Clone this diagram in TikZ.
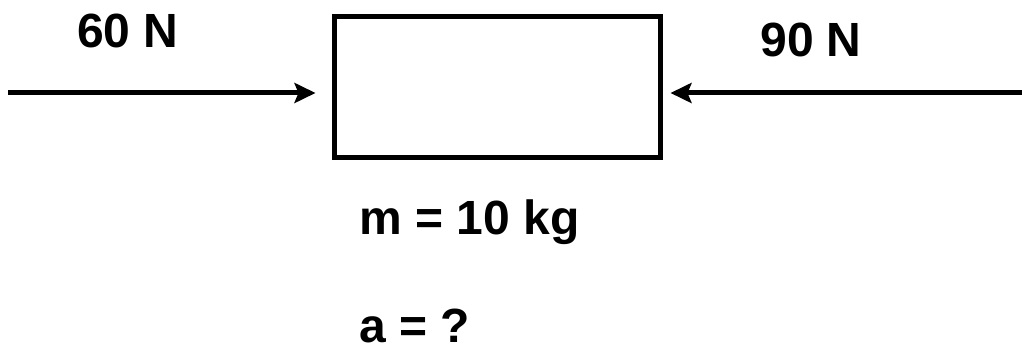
\documentclass[tikz,border=0pt]{standalone}
\usepackage{fontspec}
\setmainfont{Liberation Sans}
\usetikzlibrary{positioning,arrows.meta}
\begin{document}
\begin{tikzpicture}[x=0.5pt,y=-0.5pt,font=\fontsize{24}{28}\selectfont\bfseries,
    force/.style={-{Stealth[length=10.5pt,width=10pt,inset=2pt]},line width=2.5pt},
    lbl/.style={inner sep=0pt}]
    \useasboundingbox (0,0) rectangle (1022,351);
    \node[draw,line width=2.5pt,minimum width=163pt,minimum height=70.5pt,
          inner sep=0pt](block) at (497,87.5){};
    \coordinate (lstart) at (8,93);
    \coordinate (rstart) at (1022,93);
    \draw[force,shorten >=8pt](lstart)--(lstart -| block.west);
    \draw[force,shorten >=4pt](rstart)--(rstart -| block.east);
    \node[lbl](left) at (128,31){60 N};
    \node[lbl](right) at (811,40){90 N};
    \node[lbl,anchor=base west](mass) at (359,235){m = 10 kg};
    \node[lbl,anchor=base west](acc) at (359,343){a = ?};
  \end{tikzpicture}
\end{document}
